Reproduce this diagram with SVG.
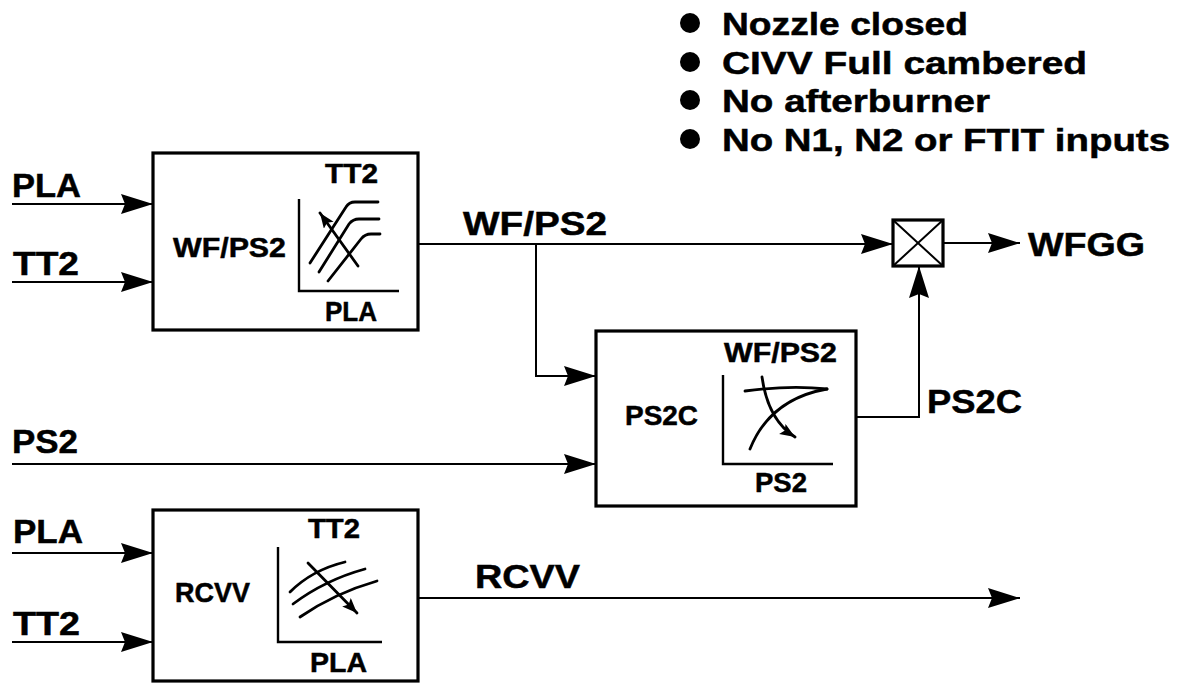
<svg xmlns="http://www.w3.org/2000/svg" width="1184" height="684" viewBox="0 0 1184 684">
<defs>
<style>
text{font-family:"Liberation Sans",Arial,sans-serif;font-weight:bold;fill:#000;stroke:#000;stroke-width:0.5}
.big{font-size:34px}
.mid{font-size:28px}
.bul{font-size:32px}
.box{fill:#fff;stroke:#000;stroke-width:3.2}
.con{fill:none;stroke:#000;stroke-width:2}
.ax{fill:none;stroke:#000;stroke-width:2.4}
.cv{fill:none;stroke:#000;stroke-width:2.8;stroke-linecap:round}
</style>
<marker id="arr" markerUnits="userSpaceOnUse" markerWidth="34" markerHeight="22" refX="32" refY="10" orient="auto">
<path d="M0,0 L32,10 L0,20 L4,10 z" fill="#000"/>
</marker>
<marker id="sarr" markerUnits="userSpaceOnUse" markerWidth="18" markerHeight="14" refX="15" refY="6" orient="auto">
<path d="M0,0 L15,6 L0,12 L3,6 z" fill="#000"/>
</marker>
</defs>
<rect width="1184" height="684" fill="#fff"/>

<g id="notes">
<circle cx="690" cy="23" r="10"/>
<circle cx="690" cy="62" r="10"/>
<circle cx="690" cy="100" r="10"/>
<circle cx="690" cy="139" r="10"/>
<text class="bul" x="722" y="35" textLength="246" lengthAdjust="spacingAndGlyphs">Nozzle closed</text>
<text class="bul" x="722" y="74" textLength="365" lengthAdjust="spacingAndGlyphs">CIVV Full cambered</text>
<text class="bul" x="722" y="112" textLength="268" lengthAdjust="spacingAndGlyphs">No afterburner</text>
<text class="bul" x="722" y="151" textLength="448" lengthAdjust="spacingAndGlyphs">No N1, N2 or FTIT inputs</text>
</g>

<g id="connectors">
<path class="con" d="M12,204 H153" marker-end="url(#arr)"/>
<path class="con" d="M12,282 H153" marker-end="url(#arr)"/>
<path class="con" d="M418,244 H893" marker-end="url(#arr)"/>
<path class="con" d="M536,244 V376 H596" marker-end="url(#arr)"/>
<path class="con" d="M12,464 H596" marker-end="url(#arr)"/>
<path class="con" d="M856,417 H919 V266" marker-end="url(#arr)"/>
<path class="con" d="M943,243 H1020" marker-end="url(#arr)"/>
<path class="con" d="M12,553 H153" marker-end="url(#arr)"/>
<path class="con" d="M12,642 H153" marker-end="url(#arr)"/>
<path class="con" d="M418,598 H1020" marker-end="url(#arr)"/>
</g>

<g id="input-labels">
<text class="big" x="12" y="197" textLength="69" lengthAdjust="spacingAndGlyphs">PLA</text>
<text class="big" x="13" y="275" textLength="66" lengthAdjust="spacingAndGlyphs">TT2</text>
<text class="big" x="12" y="453" textLength="66" lengthAdjust="spacingAndGlyphs">PS2</text>
<text class="big" x="13" y="543" textLength="70" lengthAdjust="spacingAndGlyphs">PLA</text>
<text class="big" x="13" y="635" textLength="67" lengthAdjust="spacingAndGlyphs">TT2</text>
<text class="big" x="463" y="235" textLength="144" lengthAdjust="spacingAndGlyphs">WF/PS2</text>
<text class="big" x="1028" y="256" textLength="117" lengthAdjust="spacingAndGlyphs">WFGG</text>
<text class="big" x="927" y="413" textLength="95" lengthAdjust="spacingAndGlyphs">PS2C</text>
<text class="big" x="475" y="588" textLength="105" lengthAdjust="spacingAndGlyphs">RCVV</text>
</g>

<g id="wfps2-schedule">
<rect class="box" x="153" y="153" width="265" height="177"/>
<text class="mid" x="173" y="257" textLength="113" lengthAdjust="spacingAndGlyphs">WF/PS2</text>
<text class="mid" x="325" y="183" textLength="53" lengthAdjust="spacingAndGlyphs">TT2</text>
<text class="mid" x="325" y="321" textLength="52" lengthAdjust="spacingAndGlyphs">PLA</text>
<path class="ax" d="M299,199 V291 H399"/>
<path class="cv" d="M310,263 L346,207 Q349,202 355,202 H378"/>
<path class="cv" d="M319,272 L349,224 Q353,219 359,219 H379"/>
<path class="cv" d="M328,281 L361,239 Q365,234 371,234 H380"/>
<path class="cv" d="M358,266 L320,213" marker-end="url(#sarr)"/>
</g>

<g id="ps2c-schedule">
<rect class="box" x="596" y="331" width="260" height="175"/>
<text class="mid" x="724" y="362" textLength="113" lengthAdjust="spacingAndGlyphs">WF/PS2</text>
<text class="mid" x="625" y="425" textLength="73" lengthAdjust="spacingAndGlyphs">PS2C</text>
<text class="mid" x="755" y="492" textLength="52" lengthAdjust="spacingAndGlyphs">PS2</text>
<path class="ax" d="M723,375 V464 H833"/>
<path class="cv" d="M745,391 Q790,385 827,389"/>
<path class="cv" d="M750,449 Q770,399 827,389"/>
<path class="cv" d="M762,377 Q768,420 795,437" marker-end="url(#sarr)"/>
</g>

<g id="junction">
<rect class="box" x="893" y="220" width="50" height="46"/>
<path d="M893,220 L943,266 M943,220 L893,266" stroke="#000" stroke-width="2" fill="none"/>
</g>

<g id="rcvv-schedule">
<rect class="box" x="153" y="510" width="265" height="171"/>
<text class="mid" x="175" y="602" textLength="75" lengthAdjust="spacingAndGlyphs">RCVV</text>
<text class="mid" x="308" y="538" textLength="52" lengthAdjust="spacingAndGlyphs">TT2</text>
<text class="mid" x="310" y="672" textLength="57" lengthAdjust="spacingAndGlyphs">PLA</text>
<path class="ax" d="M278,547 V642 H382"/>
<path class="cv" d="M290,592 Q312,570 345,562"/>
<path class="cv" d="M293,604 Q325,580 365,569"/>
<path class="cv" d="M300,617 Q335,593 377,581"/>
<path class="cv" d="M308,563 L357,613" marker-end="url(#sarr)"/>
</g>
</svg>
